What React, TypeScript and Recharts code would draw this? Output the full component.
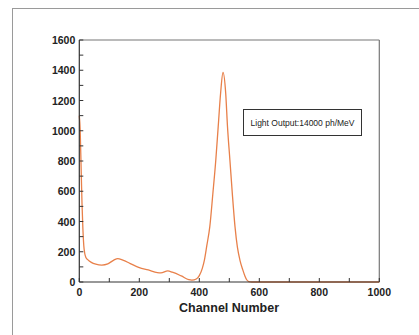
import React from "react";
import { LineChart, Line, XAxis, YAxis, ReferenceLine } from "recharts";

const channels = [0, 3, 6, 9, 12, 15, 18, 22, 28, 40, 55, 75, 95, 115, 128, 145, 170, 200, 230, 260, 272, 295, 310, 340, 365, 375, 390, 400, 410, 417, 425, 435, 445, 455, 463, 471, 479, 488, 494, 502, 510, 519, 527, 536, 545, 552, 558, 565, 575, 600, 700, 800, 900, 1000];
const counts = [1100, 1000, 760, 520, 350, 240, 190, 162, 148, 130, 118, 112, 120, 145, 155, 145, 122, 95, 80, 62, 60, 73, 65, 40, 15, 12, 20, 42, 90, 145, 240, 366, 580, 807, 1027, 1248, 1385, 1248, 1027, 807, 586, 366, 230, 140, 80, 40, 15, 3, 0, 0, 0, 0, 0, 0];

const xTicks = [0, 100, 200, 300, 400, 500, 600, 700, 800, 900, 1000];
const yTicks = [0, 100, 200, 300, 400, 500, 600, 700, 800, 900, 1000, 1100, 1200, 1300, 1400, 1500, 1600];
const legendText = "Light Output:14000 ph/MeV";
const xTitle = "Channel Number";

const data = channels.map((c, i) => ({ ch: c, v: counts[i] }));

const FONT = "'Liberation Sans', Arial, sans-serif";

const XTick = (props: any) => {
  const { x, y, payload } = props;
  const major = payload.value % 200 === 0;
  return (
    <g>
      <line x1={x} y1={y} x2={x} y2={y - 4} stroke="#333" strokeWidth={1} />
      {major && (
        <text x={x} y={y + 14} textAnchor="middle" fontSize={10.5} fontWeight="bold" fill="#222" fontFamily={FONT}>
          {payload.value}
        </text>
      )}
    </g>
  );
};

const YTick = (props: any) => {
  const { x, y, payload } = props;
  const major = payload.value % 200 === 0;
  return (
    <g>
      <line x1={x} y1={y} x2={x + 4} y2={y} stroke="#333" strokeWidth={1} />
      {major && (
        <text x={x - 4} y={y + 4} textAnchor="end" fontSize={10.5} fontWeight="bold" fill="#222" fontFamily={FONT}>
          {payload.value}
        </text>
      )}
    </g>
  );
};

export default function App() {
  return (
    <div style={{ position: "fixed", left: 0, top: 0, width: 419, height: 335, overflow: "hidden", background: "#fff" }}>
      <div
        style={{
          position: "absolute",
          left: 12,
          top: 8,
          width: 500,
          height: 500,
          borderLeft: "1.5px solid #9a9a9a",
          borderTop: "1.5px solid #9a9a9a",
        }}
      />
      <div style={{ position: "absolute", left: 0, top: 0 }}>
        <LineChart width={419} height={335} data={data} margin={{ top: 40, right: 39.7, bottom: 23, left: 39.3 }}>
          <XAxis
            dataKey="ch"
            type="number"
            domain={[0, 1000]}
            ticks={xTicks}
            interval={0}
            tickLine={false}
            tickSize={0}
            tickMargin={0}
            tick={<XTick />}
            axisLine={{ stroke: "#333", strokeWidth: 1.2 }}
            height={30}
          />
          <YAxis
            type="number"
            domain={[0, 1600]}
            ticks={yTicks}
            interval={0}
            tickLine={false}
            tickSize={0}
            tickMargin={0}
            tick={<YTick />}
            axisLine={{ stroke: "#333", strokeWidth: 1.2 }}
            width={40}
          />
          <ReferenceLine y={1600} stroke="#777" strokeWidth={1.2} ifOverflow="visible" />
          <ReferenceLine x={1000} stroke="#777" strokeWidth={1.2} ifOverflow="visible" />
          <Line
            type="monotone"
            dataKey="v"
            stroke="#E8804A"
            strokeWidth={1.3}
            dot={false}
            isAnimationActive={false}
          />
        </LineChart>
      </div>
      <div
        style={{
          position: "absolute",
          left: 229,
          top: 301,
          transform: "translate(-50%, 0)",
          fontFamily: FONT,
          fontWeight: "bold",
          fontSize: 12.5,
          color: "#222",
          whiteSpace: "nowrap",
          lineHeight: "14px",
        }}
      >
        {xTitle}
      </div>
      <div
        style={{
          position: "absolute",
          left: 243,
          top: 109,
          width: 119,
          height: 27,
          boxSizing: "border-box",
          border: "1.5px solid #333",
          fontFamily: FONT,
          fontSize: 8.5,
          color: "#222",
          display: "flex",
          alignItems: "center",
          justifyContent: "center",
          whiteSpace: "nowrap",
        }}
      >
        {legendText}
      </div>
    </div>
  );
}
